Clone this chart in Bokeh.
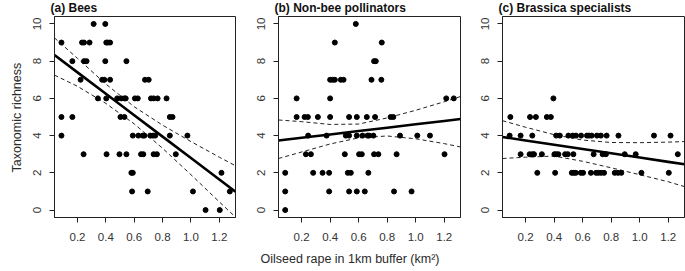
import numpy as np
from bokeh.plotting import figure
from bokeh.layouts import row
from bokeh.models import Range1d, FixedTicker, Title
from bokeh.embed import file_html
from bokeh.resources import INLINE

# ---------------- data ----------------
x_ticks = [0.2, 0.4, 0.6, 0.8, 1.0, 1.2]
x_tick_labels = ["0.2", "0.4", "0.6", "0.8", "1.0", "1.2"]
y_ticks = [0, 2, 4, 6, 8, 10]
y_tick_labels = ["0", "2", "4", "6", "8", "10"]

panel_titles = ["(a) Bees", "(b) Non-bee pollinators", "(c) Brassica specialists"]
y_title = "Taxonomic richness"
x_title = "Oilseed rape in 1km buffer (km\u00b2)"

bees_x = [0.314, 0.396,
          0.087, 0.232, 0.246, 0.285, 0.403, 0.414, 0.430,
          0.164, 0.246, 0.264, 0.396, 0.545,
          0.222, 0.374, 0.390, 0.430, 0.676, 0.702,
          0.344, 0.403, 0.480, 0.508, 0.531, 0.540, 0.605, 0.625, 0.718, 0.737, 0.765, 0.828,
          0.087, 0.164, 0.503, 0.531, 0.851, 0.870,
          0.087, 0.590, 0.629, 0.660, 0.672, 0.713, 0.732, 0.748, 0.851, 0.975,
          0.243, 0.405, 0.496, 0.545, 0.648, 0.664, 0.737, 0.760, 0.893,
          0.580, 0.590, 1.215,
          0.585, 0.695, 1.014, 1.274,
          1.103, 1.203]
bees_y = [10, 10,
          9, 9, 9, 9, 9, 9, 9,
          8, 8, 8, 8, 8,
          7, 7, 7, 7, 7, 7,
          6, 6, 6, 6, 6, 6, 6, 6, 6, 6, 6, 6,
          5, 5, 5, 5, 5, 5,
          4, 4, 4, 4, 4, 4, 4, 4, 4, 4,
          3, 3, 3, 3, 3, 3, 3, 3, 3,
          2, 2, 2,
          1, 1, 1, 1,
          0, 0]

nonbee_x = [0.580,
            0.433, 0.762,
            0.708, 0.720,
            0.400, 0.417, 0.433, 0.475, 0.494, 0.690, 0.759,
            0.165, 0.400, 1.214, 1.267,
            0.165, 0.221, 0.244, 0.314, 0.400, 0.533, 0.587, 0.657, 0.715, 0.824, 0.843,
            0.246, 0.375, 0.510, 0.533, 0.587, 0.627, 0.662, 0.673, 0.703, 0.890, 1.011, 1.100,
            0.230, 0.265, 0.503, 0.603, 0.622, 0.708, 0.738, 0.866, 1.202,
            0.085, 0.281, 0.347, 0.393, 0.524, 0.545, 0.668,
            0.085, 0.393, 0.533, 0.587, 0.643, 0.848, 0.971,
            0.085]
nonbee_y = [10,
            9, 9,
            8, 8,
            7, 7, 7, 7, 7, 7, 7,
            6, 6, 6, 6,
            5, 5, 5, 5, 5, 5, 5, 5, 5, 5, 5,
            4, 4, 4, 4, 4, 4, 4, 4, 4, 4, 4, 4,
            3, 3, 3, 3, 3, 3, 3, 3, 3,
            2, 2, 2, 2, 2, 2, 2,
            1, 1, 1, 1, 1, 1, 1,
            0]

brassica_x = [0.395,
              0.093, 0.231, 0.272, 0.349, 0.377,
              0.088, 0.165, 0.247, 0.414, 0.440, 0.500, 0.530, 0.553, 0.589, 0.630, 0.645,
              0.663, 0.700, 0.728, 0.768, 0.851, 1.100, 1.216,
              0.165, 0.228, 0.247, 0.259, 0.314, 0.402, 0.414, 0.430, 0.477, 0.496, 0.535,
              0.677, 0.740, 0.763, 0.895, 0.972, 1.267,
              0.282, 0.407, 0.524, 0.538, 0.552, 0.587, 0.603, 0.658, 0.694, 0.710, 0.729,
              0.750, 0.825, 0.848, 0.871, 1.012, 1.204]
brassica_y = [6,
              5, 5, 5, 5, 5,
              4, 4, 4, 4, 4, 4, 4, 4, 4, 4, 4,
              4, 4, 4, 4, 4, 4, 4,
              3, 3, 3, 3, 3, 3, 3, 3, 3, 3, 3,
              3, 3, 3, 3, 3, 3,
              2, 2, 2, 2, 2, 2, 2, 2, 2, 2, 2,
              2, 2, 2, 2, 2, 2]

# fitted regression lines (intercept, slope) and 95% band edges
fit_x = [0.038, 0.2, 0.4, 0.6, 0.8, 1.0, 1.2, 1.314]

bees_fit = (8.55, -5.756)
bees_upper = [9.25, 8.15, 6.77, 5.55, 4.56, 3.68, 2.84, 2.38]
bees_lower = [7.25, 6.65, 5.73, 4.63, 3.32, 1.90, 0.44, -0.38]

nonbee_fit = (3.70, 0.906)
nonbee_upper = [4.84, 4.75, 4.60, 4.62, 4.95, 5.36, 5.82, 6.10]
nonbee_lower = [2.77, 3.12, 3.55, 3.88, 3.98, 3.83, 3.57, 3.39]

brassica_fit = (3.97, -1.15)
brassica_upper = [4.80, 4.45, 4.05, 3.76, 3.63, 3.62, 3.65, 3.68]
brassica_lower = [2.77, 2.84, 2.90, 2.62, 2.27, 1.90, 1.52, 1.26]

# ---------------- styling ----------------
FONT = "Liberation Sans"
X_LO, X_HI = 0.038, 1.314
Y_LO, Y_HI = -0.4, 10.4
INK = "#222222"


def make_panel(xv, yv, fit, upper, lower, title, width, left, right):
    p = figure(width=width, height=271, output_backend="svg", toolbar_location=None,
               x_range=Range1d(X_LO, X_HI), y_range=Range1d(Y_LO, Y_HI),
               min_border_left=left, min_border_right=right,
               min_border_top=15, min_border_bottom=53)
    p.grid.visible = False
    p.outline_line_color = INK
    p.outline_line_width = 1
    p.background_fill_color = "white"
    p.border_fill_color = "white"

    p.title = Title(text=title, align="left", offset=-4, standoff=0,
                    text_line_height=0.8, vertical_align="top",
                    text_font=FONT, text_font_size="12px", text_font_style="bold",
                    text_color="#111111")

    for ax in (p.xaxis[0], p.yaxis[0]):
        ax.axis_line_color = INK
        ax.major_tick_line_color = INK
        ax.major_tick_out = 5
        ax.major_tick_in = 0
        ax.minor_tick_line_color = None
        ax.major_label_text_font = FONT
        ax.major_label_text_font_size = "11.5px"
        ax.major_label_text_color = "#333333"
    p.xaxis.ticker = FixedTicker(ticks=x_ticks)
    p.xaxis.major_label_overrides = {t: s for t, s in zip(x_ticks, x_tick_labels)}
    p.xaxis.major_label_standoff = 10
    p.yaxis.ticker = FixedTicker(ticks=y_ticks)
    p.yaxis.major_label_overrides = {t: s for t, s in zip(y_ticks, y_tick_labels)}
    p.yaxis.major_label_orientation = "vertical"
    p.yaxis.major_label_standoff = 8

    fx = np.asarray(fit_x)
    p.line(fit_x, lower, line_color=INK, line_width=1, line_dash="4 3")
    p.line(fit_x, upper, line_color=INK, line_width=1, line_dash="4 3")
    p.line(fit_x, fit[0] + fit[1] * fx, line_color="black", line_width=2.6)
    p.scatter(xv, yv, size=5, color="black")
    return p


pa = make_panel(bees_x, bees_y, bees_fit, bees_upper, bees_lower, panel_titles[0], 250, 53, 15)
pb = make_panel(nonbee_x, nonbee_y, nonbee_fit, nonbee_upper, nonbee_lower, panel_titles[1], 225, 28, 15)
pc = make_panel(brassica_x, brassica_y, brassica_fit, brassica_upper, brassica_lower, panel_titles[2], 210, 27, 1)

pa.add_layout(Title(text=y_title, align="left", offset=45, standoff=14,
                    text_font=FONT, text_font_size="12.5px", text_font_style="normal",
                    text_color="#2a2a2a"), "left")
pb.add_layout(Title(text=x_title, align="left", offset=-18, standoff=12,
                    text_font=FONT, text_font_size="12.5px", text_font_style="normal",
                    text_color="#2a2a2a"), "below")

layout = row(pa, pb, pc, spacing=0)
open("out.html", "w").write(file_html(layout, INLINE))
